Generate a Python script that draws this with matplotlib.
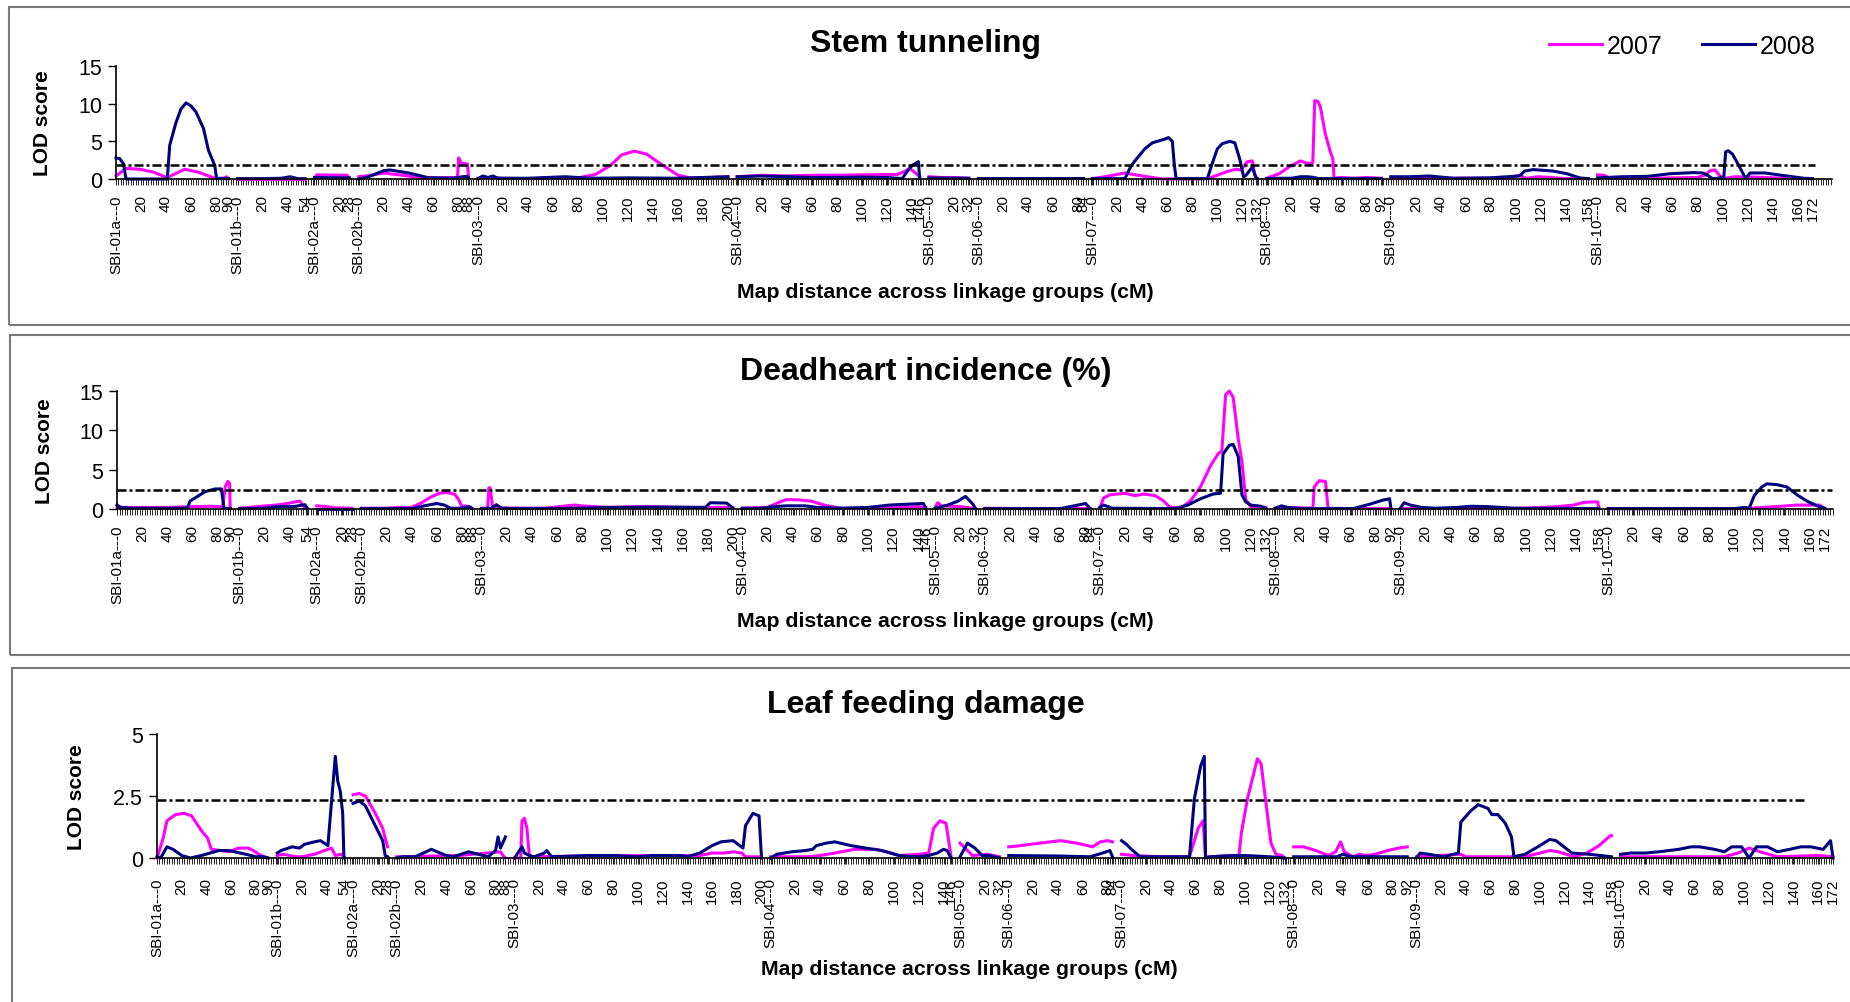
import matplotlib
matplotlib.use("Agg")
import matplotlib.pyplot as plt
from matplotlib.lines import Line2D
from matplotlib.patches import Rectangle
from matplotlib.ticker import MultipleLocator
import numpy as np

plt.rcParams['font.family'] = ['Liberation Sans', 'DejaVu Sans']

# linkage groups and their lengths (cM)
groups = ["SBI-01a", "SBI-01b", "SBI-02a", "SBI-02b", "SBI-03", "SBI-04",
          "SBI-05", "SBI-06", "SBI-07", "SBI-08", "SBI-09", "SBI-10"]
group_len = [90, 54, 28, 88, 200, 146, 32, 84, 132, 92, 158, 172]
GAP = 7.4

# LOD profiles, per group: (position cM, LOD)
stem_2007 = {
    "SBI-01a": ([0, 8, 19, 30, 41, 55, 66, 79, 86, 88.5, 90], [0.4, 1.4, 1.3, 0.9, 0.2, 1.3, 0.9, 0.1, 0.1, 0.3, 0]),
    "SBI-01b": ([0, 54], [0.05, 0.05]),
    "SBI-02a": ([0, 2, 26, 28], [0.1, 0.55, 0.5, 0.1]),
    "SBI-02b": ([0, 10, 20, 35, 55, 75, 79, 80, 82, 87, 88], [0.3, 0.5, 0.8, 0.5, 0.05, 0.2, 0.2, 2.8, 2.1, 2.0, 0.1]),
    "SBI-03": ([0, 10, 20, 40, 60, 80, 94, 106, 115, 125, 135, 148, 160, 170, 185, 200],
               [0.1, 0.2, 0.1, 0.05, 0.1, 0.15, 0.6, 1.8, 3.2, 3.7, 3.3, 1.8, 0.5, 0.15, 0.2, 0.3]),
    "SBI-04": ([0, 20, 40, 60, 80, 100, 120, 128, 134, 138, 142, 146], [0.3, 0.5, 0.4, 0.5, 0.5, 0.55, 0.6, 0.6, 1.0, 1.4, 0.9, 0.3]),
    "SBI-05": ([0, 10, 20, 32], [0.3, 0.2, 0.2, 0.1]),
    "SBI-06": ([0, 40, 84], [0.1, 0.1, 0.1]),
    "SBI-07": ([0, 10, 26, 40, 56, 92, 100, 108, 115, 119, 124, 128, 130, 132],
               [0.05, 0.3, 0.8, 0.4, 0.0, 0.05, 0.5, 1.0, 1.3, 1.2, 2.3, 2.4, 0.5, 0.05]),
    "SBI-08": ([0, 10, 18, 27, 34, 37, 38.5, 41, 43, 47, 51, 53, 54, 60, 70, 80, 92],
               [0.1, 0.7, 1.6, 2.4, 2.0, 2.2, 10.4, 10.3, 9.6, 6.0, 3.6, 2.7, 0.1, 0.2, 0.1, 0.2, 0.1]),
    "SBI-09": ([0, 50, 95, 100, 103, 108, 118, 128, 140, 158], [0.05, 0.1, 0.1, 0.4, 0.5, 0.1, 0.3, 0.2, 0.05, 0.05]),
    "SBI-10": ([0, 5, 10, 40, 80, 86, 90, 94, 98, 102, 110, 125, 150, 172],
               [0.55, 0.5, 0.1, 0.1, 0.2, 0.5, 1.1, 1.2, 0.4, 0.1, 0.3, 0.25, 0.1, 0.05]),
}
stem_2008 = {
    "SBI-01a": ([0, 3, 6, 8, 41, 43, 48, 52, 56, 60, 64, 70, 74, 79, 80.5, 90],
                [2.8, 2.7, 2.0, 0, 0, 4.5, 7.5, 9.3, 10.1, 9.7, 8.9, 6.7, 3.8, 1.8, 0.05, 0.05]),
    "SBI-01b": ([0, 20, 35, 42, 48, 54], [0.05, 0.05, 0.1, 0.3, 0.05, 0.05]),
    "SBI-02a": ([0, 28], [0.2, 0.15]),
    "SBI-02b": ([0, 8, 20, 25, 40, 55, 76, 83, 87, 88], [0.0, 0.3, 1.1, 1.2, 0.8, 0.2, 0.1, 0.3, 0.35, 0.1]),
    "SBI-03": ([0, 4, 8, 12, 16, 40, 70, 90, 120, 160, 200], [0.05, 0.4, 0.2, 0.4, 0.1, 0.1, 0.3, 0.1, 0.15, 0.1, 0.3]),
    "SBI-04": ([0, 20, 40, 60, 80, 100, 120, 132, 136, 140, 145, 146],
               [0.3, 0.4, 0.3, 0.2, 0.2, 0.25, 0.2, 0.05, 1.0, 1.8, 2.3, 0.1]),
    "SBI-05": ([0, 32], [0.15, 0.1]),
    "SBI-06": ([0, 84], [0.1, 0.1]),
    "SBI-07": ([0, 26, 31, 36, 42, 48, 54, 58, 61, 64, 65.5, 67, 92, 97, 100, 104, 110, 114, 118, 121, 123, 128, 131, 132],
               [0.05, 0.05, 1.75, 2.8, 4.0, 4.8, 5.1, 5.3, 5.5, 5.0, 2.0, 0.05, 0.05, 2.6, 4.0, 4.7, 5.0, 4.8, 2.6, 0.3, 0.5, 1.6, 0.1, 0.05]),
    "SBI-08": ([0, 10, 20, 27, 33, 38, 42, 92], [0.05, 0.1, 0.1, 0.3, 0.3, 0.2, 0.05, 0.05]),
    "SBI-09": ([0, 15, 31, 50, 79, 103, 107, 114, 130, 141, 151, 158],
               [0.3, 0.3, 0.4, 0.1, 0.15, 0.4, 1.05, 1.25, 1.05, 0.7, 0.15, 0.05]),
    "SBI-10": ([0, 20, 40, 58, 77, 84, 88, 92, 96, 101, 102.5, 104.6, 108, 113, 118.6, 122, 134, 147, 165, 172],
               [0.15, 0.3, 0.35, 0.7, 0.85, 0.8, 0.5, 0.05, 0.1, 0.2, 3.6, 3.75, 3.3, 1.8, 0.05, 0.8, 0.8, 0.5, 0.1, 0.05]),
}

deadheart_2007 = {
    "SBI-01a": ([0, 40, 60, 75, 82, 84, 86, 88, 89.5, 90], [0.2, 0.2, 0.3, 0.35, 0.3, 0.1, 2.8, 3.5, 3.3, 0.05]),
    "SBI-01b": ([0, 14, 29, 38, 44, 48, 52, 54], [0.1, 0.3, 0.5, 0.7, 0.9, 1.0, 0.05, 0.05]),
    "SBI-02a": ([0, 5, 15, 28], [0.4, 0.35, 0.15, 0.1]),
    "SBI-02b": ([0, 20, 30, 40, 48, 55, 62, 68, 74, 77, 80, 83, 88], [0.1, 0.1, 0.2, 0.2, 0.8, 1.5, 2.0, 2.1, 1.9, 1.3, 0.3, 0.4, 0.1]),
    "SBI-03": ([0, 5, 6, 7, 9, 20, 50, 62, 74, 80, 100, 130, 160, 200],
               [0.1, 0.1, 2.7, 2.7, 0.2, 0.1, 0.1, 0.3, 0.5, 0.4, 0.2, 0.3, 0.2, 0.2]),
    "SBI-04": ([0, 20, 30, 35, 45, 55, 65, 78, 100, 120, 140, 146], [0.1, 0.2, 0.9, 1.2, 1.15, 1.0, 0.5, 0.1, 0.1, 0.15, 0.3, 0.2]),
    "SBI-05": ([0, 2, 5, 20, 30, 32], [0.2, 0.8, 0.4, 0.3, 0.1, 0.05]),
    "SBI-06": ([0, 40, 84], [0.1, 0.05, 0.05]),
    "SBI-07": ([0, 3, 8, 20, 28, 35, 44, 50, 56, 65, 72, 80, 88, 94, 97, 100, 103, 106, 110, 113, 116, 120, 126, 132],
               [0.1, 1.4, 1.8, 2.0, 1.7, 1.9, 1.7, 1.1, 0.2, 0.2, 1.0, 2.8, 5.5, 7.0, 7.4, 14.5, 15.0, 14.2, 9.0, 6.0, 1.2, 0.3, 0.3, 0.2]),
    "SBI-08": ([0, 10, 30, 31, 35, 40, 42, 60, 92], [0.1, 0.2, 0.1, 2.8, 3.6, 3.5, 0.1, 0.05, 0.05]),
    "SBI-09": ([0, 100, 125, 138, 146, 154, 157, 158], [0.05, 0.1, 0.3, 0.5, 0.85, 0.9, 0.9, 0.05]),
    "SBI-10": ([0, 108, 133, 150, 168, 172], [0.05, 0.05, 0.3, 0.5, 0.5, 0.05]),
}
deadheart_2008 = {
    "SBI-01a": ([0, 3, 10, 56, 58, 64, 70, 78, 83, 85, 90], [0.5, 0.2, 0.1, 0.1, 1.0, 1.6, 2.2, 2.55, 2.55, 0.1, 0.05]),
    "SBI-01b": ([0, 20, 30, 40, 45, 50, 52, 54], [0.05, 0.1, 0.3, 0.3, 0.35, 0.5, 0.55, 0.05]),
    "SBI-02a": ([0, 28], [0.05, 0.05]),
    "SBI-02b": ([0, 40, 50, 60, 66, 71, 80, 86, 88], [0.05, 0.05, 0.4, 0.7, 0.5, 0.1, 0.1, 0.3, 0.05]),
    "SBI-03": ([0, 8, 12, 16, 40, 80, 100, 140, 178, 182, 195, 200], [0.05, 0.1, 0.55, 0.1, 0.05, 0.1, 0.2, 0.25, 0.2, 0.8, 0.75, 0.1]),
    "SBI-04": ([0, 15, 25, 35, 50, 60, 80, 100, 117, 130, 144, 146], [0.1, 0.1, 0.3, 0.4, 0.4, 0.2, 0.1, 0.2, 0.5, 0.6, 0.7, 0.05]),
    "SBI-05": ([0, 10, 18, 24, 30, 32], [0.1, 0.5, 1.0, 1.6, 0.6, 0.05]),
    "SBI-06": ([0, 60, 74, 80, 84], [0.05, 0.05, 0.5, 0.7, 0.05]),
    "SBI-07": ([0, 3, 10, 60, 70, 80, 90, 96, 98, 103, 106, 110, 113, 116, 120, 128, 132],
               [0.2, 0.5, 0.1, 0.05, 0.5, 1.3, 1.9, 2.0, 7.0, 8.1, 8.2, 6.7, 1.8, 0.9, 0.5, 0.35, 0.05]),
    "SBI-08": ([0, 5, 10, 20, 62, 75, 85, 91, 92], [0.1, 0.4, 0.2, 0.05, 0.05, 0.6, 1.1, 1.3, 0.05]),
    "SBI-09": ([0, 3, 8, 17, 28, 45, 56, 70, 90, 158], [0.05, 0.8, 0.5, 0.2, 0.1, 0.2, 0.35, 0.3, 0.1, 0.05]),
    "SBI-10": ([0, 100, 108, 112, 116, 122, 126, 134, 142, 150, 158, 166, 172],
               [0.05, 0.05, 0.2, 0.1, 1.7, 2.8, 3.2, 3.1, 2.8, 1.8, 1.0, 0.4, 0.1]),
}

leaf_2007 = {
    "SBI-01a": ([0, 5, 8, 15, 22, 28, 36, 41, 44, 52, 58, 66, 74, 78, 84, 90],
                [0, 0.8, 1.5, 1.75, 1.8, 1.7, 1.1, 0.8, 0.35, 0.3, 0.25, 0.4, 0.4, 0.3, 0.1, 0]),
    "SBI-01b": ([0, 5, 15, 20, 30, 41, 44, 47, 52, 54], [0.1, 0.15, 0.05, 0.05, 0.15, 0.35, 0.4, 0.1, 0.15, 0.05]),
    "SBI-02a": ([0, 5, 10, 18, 24, 26, 28], [2.55, 2.6, 2.5, 1.8, 1.2, 0.8, 0.45]),
    "SBI-02b": ([0, 50, 84, 86, 88], [0.05, 0.1, 0.25, 0.1, 0]),
    "SBI-03": ([0, 5, 6, 8, 10, 12, 60, 110, 150, 160, 170, 177, 184, 187, 200],
               [0, 0, 1.5, 1.6, 1.2, 0.05, 0.08, 0.1, 0.1, 0.2, 0.2, 0.25, 0.2, 0.05, 0.05]),
    "SBI-04": ([0, 30, 40, 52, 68, 85, 94, 104, 120, 128, 132, 137, 142, 146],
               [0.05, 0.05, 0.1, 0.2, 0.35, 0.35, 0.25, 0.1, 0.15, 0.2, 1.2, 1.5, 1.4, 0.1]),
    "SBI-05": ([0, 4, 10, 22, 32], [0.6, 0.4, 0.1, 0.15, 0.05]),
    "SBI-06": ([0, 10, 25, 42, 55, 68, 74, 80, 84], [0.45, 0.5, 0.6, 0.7, 0.6, 0.45, 0.65, 0.7, 0.65]),
    "SBI-07": ([0, 10, 30, 55, 62, 66, 68, 72, 90, 95, 97, 102, 106, 110, 113, 117, 121, 125, 130, 132],
               [0.15, 0.1, 0.05, 0.05, 1.2, 1.5, 0.05, 0.05, 0.1, 0.05, 1.0, 2.4, 3.2, 4.0, 3.8, 2.2, 0.6, 0.15, 0.1, 0]),
    "SBI-08": ([0, 8, 18, 28, 34, 38, 41, 48, 53, 58, 66, 76, 85, 92],
               [0.45, 0.45, 0.3, 0.1, 0.25, 0.65, 0.25, 0.05, 0.15, 0.1, 0.15, 0.3, 0.4, 0.45]),
    "SBI-09": ([0, 20, 36, 40, 88, 100, 108, 115, 128, 138, 148, 157, 158],
               [0.05, 0.1, 0.15, 0.05, 0.05, 0.2, 0.3, 0.25, 0.05, 0.2, 0.5, 0.9, 0.9]),
    "SBI-10": ([0, 84, 95, 104, 113, 127, 160, 172], [0.05, 0.05, 0.2, 0.4, 0.25, 0.05, 0.1, 0.05]),
}
leaf_2008 = {
    "SBI-01a": ([0, 3, 8, 13, 20, 27, 36, 50, 58, 72, 80, 86, 90],
                [0.05, 0.0, 0.45, 0.35, 0.1, 0.0, 0.1, 0.3, 0.3, 0.15, 0.05, 0.05, 0]),
    "SBI-01b": ([0, 3, 12, 18, 22, 30, 35, 41, 47, 49, 51, 53, 54], [0.2, 0.3, 0.45, 0.4, 0.55, 0.65, 0.7, 0.5, 4.1, 3.1, 2.7, 1.8, 0]),
    "SBI-02a": ([0, 5, 10, 18, 24, 26, 28], [2.2, 2.3, 2.1, 1.3, 0.7, 0.1, 0.05]),
    "SBI-02b": ([0, 5, 15, 28, 40, 46, 58, 66, 74, 80, 82, 84, 88], [0, 0.05, 0.05, 0.35, 0.1, 0.05, 0.25, 0.15, 0.05, 0.3, 0.85, 0.4, 0.85]),
    "SBI-03": ([0, 6, 8, 12, 16, 24, 26, 30, 60, 80, 100, 110, 135, 140, 150, 160, 167, 177, 185, 187, 193, 198, 200],
               [0, 0.45, 0.2, 0.1, 0.05, 0.2, 0.3, 0.05, 0.1, 0.1, 0.05, 0.1, 0.1, 0.05, 0.2, 0.5, 0.65, 0.7, 0.4, 1.3, 1.8, 1.7, 0]),
    "SBI-04": ([0, 5, 17, 28, 34, 37, 45, 52, 65, 77, 90, 104, 120, 128, 135, 140, 143, 146],
               [0, 0.15, 0.25, 0.3, 0.35, 0.5, 0.6, 0.65, 0.5, 0.4, 0.3, 0.1, 0.05, 0.1, 0.2, 0.35, 0.3, 0]),
    "SBI-05": ([0, 6, 12, 18, 24, 32], [0.05, 0.6, 0.4, 0.1, 0.1, 0]),
    "SBI-06": ([0, 40, 66, 76, 82, 84], [0.1, 0.08, 0.05, 0.2, 0.3, 0.05]),
    "SBI-07": ([0, 4, 8, 15, 55, 59, 64, 67, 68, 72, 90, 100, 120, 132],
               [0.7, 0.55, 0.35, 0.05, 0.05, 2.4, 3.7, 4.1, 0, 0.05, 0.1, 0.1, 0.05, 0]),
    "SBI-08": ([0, 35, 40, 46, 92], [0.05, 0.05, 0.15, 0.05, 0.05]),
    "SBI-09": ([0, 3, 10, 22, 34, 36, 44, 50, 58, 61, 66, 72, 77, 79, 88, 100, 108, 113, 126, 140, 158],
               [0, 0.2, 0.15, 0.05, 0.2, 1.45, 1.9, 2.15, 2.0, 1.75, 1.75, 1.4, 0.85, 0.05, 0.15, 0.5, 0.75, 0.7, 0.2, 0.15, 0.05]),
    "SBI-10": ([0, 8, 20, 31, 47, 57, 64, 76, 84, 90, 98, 104, 110, 119, 127, 137, 146, 154, 164, 170, 172],
               [0.15, 0.2, 0.2, 0.25, 0.35, 0.45, 0.45, 0.35, 0.25, 0.45, 0.45, 0, 0.45, 0.45, 0.25, 0.35, 0.45, 0.45, 0.35, 0.7, 0]),
}

# significance thresholds and the span they are drawn over (map units)
thresholds = [1.8, 2.4, 2.35]
threshold_end = [1359, 1363, 1336]

titles = ["Stem tunneling", "Deadheart incidence (%)", "Leaf feeding damage"]
years = ["2007", "2008"]
colors = ["#FF00FF", "#000080"]

W, H = 1850, 1003
fig = plt.figure(figsize=(W / 100, H / 100), dpi=100)


def frac(left, right, top, bottom):
    return [left / W, 1 - bottom / H, (right - left) / W, (bottom - top) / H]


offsets = np.concatenate([[0], np.cumsum(np.array(group_len[:-1]) + GAP)])

tick_pos, tick_lab = [], []
for name, L, off in zip(groups, group_len, offsets):
    marks = list(range(0, L, 20)) + [L]
    for m in marks:
        tick_pos.append(off + m)
        tick_lab.append(f"{name}---0" if m == 0 else str(m))

# layout in pixels: frame top/bottom/left, axes left/right/top/bottom, x extent, label pad,
# title y, x-label centre x/y, y-label x
layout = [
    (8, 326, 9, 116, 1832, 67, 180, 1373, 7, 44, 945, 293, 43),
    (336, 656, 10, 117, 1833, 392, 510, 1364, 7, 372, 945, 622, 45),
    (669, 1010, 12, 157, 1833, 735, 859, 1357.4, 10, 705, 969, 970, 77),
]
ylims = [(0, 15), (0, 15), (0, 5)]
yticks = [[0, 5, 10, 15], [0, 5, 10, 15], [0, 2.5, 5]]
ytlabels = [["0", "5", "10", "15"], ["0", "5", "10", "15"], ["0", "2.5", "5"]]
series = [(stem_2007, stem_2008), (deadheart_2007, deadheart_2008), (leaf_2007, leaf_2008)]

for i, (ftop, fbot, fleft, al, ar, at, ab, xmax, lpad, ty, xlx, xly, ylx) in enumerate(layout):
    fig.patches.append(Rectangle((fleft / W, 1 - fbot / H), (W + 20 - fleft) / W, (fbot - ftop) / H,
                                 transform=fig.transFigure, fill=False, edgecolor="#7a7a7a", lw=1.5))
    ax = fig.add_axes(frac(al, ar, at, ab))
    for data, c in zip(series[i], colors):
        for name, off in zip(groups, offsets):
            cm, lod = data[name]
            ax.plot(off + np.array(cm), lod, color=c, lw=2.2, solid_joinstyle="round", clip_on=False)
    ax.plot([0, threshold_end[i]], [thresholds[i], thresholds[i]], color="black", lw=1.8,
            linestyle=(0, (3.6, 1.2, 1.2, 1.2)))
    ax.set_xlim(0, xmax)
    ax.set_ylim(*ylims[i])
    ax.set_yticks(yticks[i], ytlabels[i])
    ax.set_xticks(tick_pos, tick_lab, rotation=90, fontsize=11)
    ax.xaxis.set_minor_locator(MultipleLocator(2))
    ax.tick_params(axis="x", which="both", length=4, width=0.6, pad=lpad)
    ax.tick_params(axis="y", length=6, width=1, labelsize=15.5, pad=4)
    for s in ["top", "right"]:
        ax.spines[s].set_visible(False)
    for s in ["left", "bottom"]:
        ax.spines[s].set_linewidth(1.2)

    fig.text(926 / W, 1 - ty / H, titles[i], ha="center", va="center", fontsize=23, fontweight="bold")
    fig.text(xlx / W, 1 - xly / H, "Map distance across linkage groups (cM)",
             ha="center", va="center", fontsize=15.3, fontweight="bold")
    fig.text(ylx / W, 1 - ((at + ab) / 2) / H, "LOD score", rotation=90,
             ha="center", va="center", fontsize=15, fontweight="bold")

    if i == 0:
        handles = [Line2D([], [], color=c, lw=2.2) for c in colors]
        fig.legend(handles, years, loc="center left", bbox_to_anchor=(1549 / W, 1 - 47 / H),
                   ncol=2, frameon=False, fontsize=18, handlelength=2.1, handletextpad=0.2,
                   columnspacing=1.6, borderpad=0, borderaxespad=0)

fig.savefig("out.png", dpi=100)
